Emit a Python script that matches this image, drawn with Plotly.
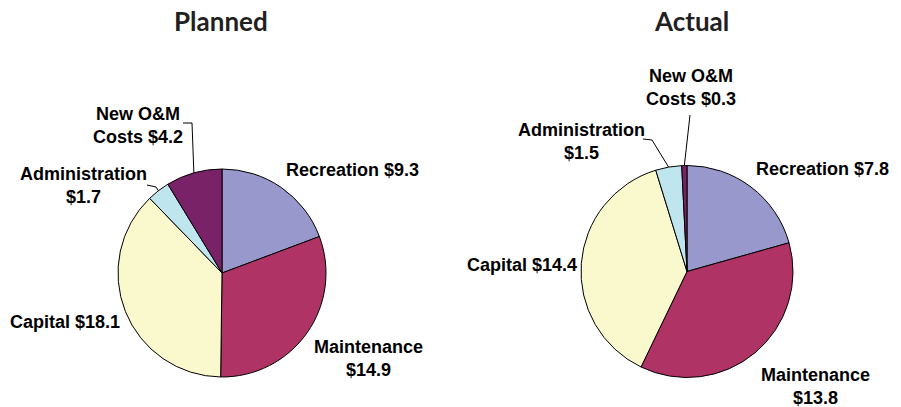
import math
import plotly.graph_objects as go

W, H = 901, 407
OFF = 8  # page body margin in the browser

categories = ["Recreation", "Maintenance", "Capital", "Administration", "New O&M Costs"]
planned_values = [9.3, 14.9, 18.1, 1.7, 4.2]
actual_values = [7.8, 13.8, 14.4, 1.5, 0.3]
titles = ["Planned", "Actual"]
colors = ["#9898CC", "#B03366", "#FAF8CD", "#BFE6EE", "#7A2268"]

# label layout: (pixel x, pixel y, line-break form)
planned_label_pos = [(352, 170, False), (368, 358, True), (65, 322, False), (83, 186, True), (138, 125, True)]
actual_label_pos = [(822, 169, False), (815, 386, True), (522, 265, False), (581, 141, True), (691, 87, True)]
# leader lines: (text-side elbow points) for small slices
planned_leaders = {3: [(147, 185), (156, 187)], 4: [(183, 123), (192, 123)]}
actual_leaders = {3: [(643, 139), (652, 140)], 4: [(690, 115)]}

pies = [
    dict(values=planned_values, cx=222, cy=273, r=104, labels=planned_label_pos, leaders=planned_leaders),
    dict(values=actual_values, cx=687, cy=271.5, r=106, labels=actual_label_pos, leaders=actual_leaders),
]

def px(x):
    return (x - OFF) / W

def py(y):
    return 1 - (y - OFF) / H

fig = go.Figure()
annotations = []
shapes = []
for i, p in enumerate(pies):
    cx, cy, r = p["cx"], p["cy"], p["r"]
    fig.add_trace(go.Pie(
        labels=categories, values=p["values"], sort=False, direction="clockwise", rotation=0,
        marker=dict(colors=colors, line=dict(color="#000000", width=1)),
        textinfo="none", hoverinfo="label+value", showlegend=False,
        domain=dict(x=[px(cx - r), px(cx + r)], y=[py(cy + r), py(cy - r)]),
    ))
    annotations.append(dict(
        text=titles[i], x=px(cx - 1.5 if i == 0 else cx + 4.5), y=py(21), xref="paper", yref="paper",
        showarrow=False, xanchor="center", yanchor="middle",
        font=dict(family="Lato", size=26, color="#231F20", weight="bold"),
    ))
    total = sum(p["values"])
    cum = 0
    for j, v in enumerate(p["values"]):
        lx, ly, brk = p["labels"][j]
        name = categories[j]
        val = f"${v:.1f}"
        if brk:
            if j == 4:
                txt = f"New O&M<br>Costs {val}"
            else:
                txt = f"{name}<br>{val}"
        else:
            txt = f"{name} {val}"
        annotations.append(dict(
            text=txt, x=px(lx), y=py(ly), xref="paper", yref="paper", showarrow=False,
            xanchor="center", yanchor="middle", align="center",
            font=dict(family="Liberation Sans, Arial", size=18, color="#000000", weight="bold"),
        ))
        mid = (cum + v / 2) / total * 2 * math.pi
        cum += v
        if j in p["leaders"]:
            ex = cx + r * math.sin(mid)
            ey = cy - r * math.cos(mid)
            pts = p["leaders"][j] + [(ex, ey)]
            path = "M " + " L ".join(f"{px(a):.5f},{py(b):.5f}" for a, b in pts)
            shapes.append(dict(type="path", path=path, xref="paper", yref="paper",
                               line=dict(color="#000000", width=1)))

fig.update_layout(
    width=W, height=H, margin=dict(l=0, r=0, t=0, b=0),
    paper_bgcolor="#FFFFFF", plot_bgcolor="#FFFFFF",
    annotations=annotations, shapes=shapes,
)
fig.write_html("out.html")
